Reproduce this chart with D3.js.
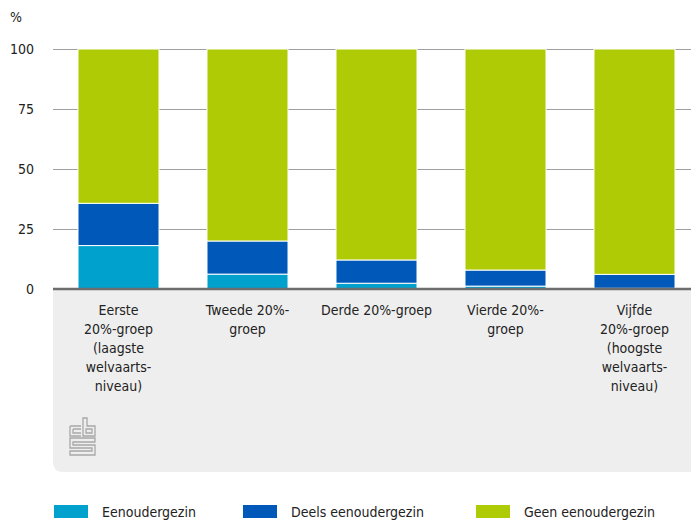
<!DOCTYPE html>
<html>
<head>
<meta charset="utf-8">
<script src="https://cdn.jsdelivr.net/npm/d3@7"></script>
<style>
  body { margin: 0; background: #fff; }
  svg { display: block; font-family: "Liberation Sans Narrow", "DejaVu Sans Condensed", "Roboto", sans-serif; }
</style>
</head>
<body>
<div id="drawArea"></div>
<script>
// categories (x labels, already split in lines)
var groups = ['g1', 'g2', 'g3', 'g4', 'g5'];
var groupLabels = [
    ['Eerste', '20%-groep', '(laagste', 'welvaarts-', 'niveau)'],
    ['Tweede 20%-', 'groep'],
    ['Derde 20%-groep'],
    ['Vierde 20%-', 'groep'],
    ['Vijfde', '20%-groep', '(hoogste', 'welvaarts-', 'niveau)']
];
// series values (%)
var eenouder = [18.1, 6.2, 2.4, 1.2, 0.3];
var deels = [17.6, 13.8, 9.7, 6.7, 5.8];
var geen = [64.3, 80.0, 87.9, 92.1, 93.9];
var seriesNames = ['Eenoudergezin', 'Deels eenoudergezin', 'Geen eenoudergezin'];
var seriesColors = ['#00a1cd', '#0058b8', '#afcb05'];
var yTicks = [0, 25, 50, 75, 100];

var width = 691, height = 522;
var plotLeft = 53, plotTop = 49, plotBottom = 289;

var svg = d3.select('#drawArea')
    .append('svg')
    .attr('width', width)
    .attr('height', height);

var x = d3.scaleBand()
    .domain(groups)
    .range([54, 699])
    .paddingInner(0.372)
    .paddingOuter(0.186);

var y = d3.scaleLinear()
    .domain([0, 100])
    .range([plotBottom, plotTop]);

// grey label panel with rounded bottom-left corner
var r = 10;
svg.append('path')
    .attr('d', 'M' + plotLeft + ',' + plotBottom + 'H' + width + 'V472H' + (plotLeft + r) +
        'Q' + plotLeft + ',472 ' + plotLeft + ',' + (472 - r) + 'Z')
    .attr('fill', '#eeeeee');

// grid lines
svg.selectAll('.grid')
    .data(yTicks.filter(function (d) { return d > 0; }))
    .enter()
    .append('line')
    .attr('x1', plotLeft)
    .attr('x2', width)
    .attr('y1', function (d) { return y(d) + 0.5; })
    .attr('y2', function (d) { return y(d) + 0.5; })
    .attr('stroke', '#a0a0a0')
    .attr('stroke-width', 1);

// y tick labels
svg.selectAll('.ytick')
    .data(yTicks)
    .enter()
    .append('text')
    .attr('x', 34)
    .attr('y', function (d) { return y(d) + 5; })
    .attr('text-anchor', 'end')
    .attr('font-size', 14)
    .attr('fill', '#222')
    .text(function (d) { return d; });

svg.append('text')
    .attr('x', 10)
    .attr('y', 22)
    .attr('font-size', 14)
    .attr('fill', '#222')
    .text('%');

// stacked bars
var table = groups.map(function (g, i) {
    return { g: g, s0: eenouder[i], s1: deels[i], s2: geen[i] };
});
var stacked = d3.stack().keys(['s0', 's1', 's2'])(table);

svg.selectAll('.serie')
    .data(stacked)
    .enter()
    .append('g')
    .attr('fill', function (d, i) { return seriesColors[i]; })
    .selectAll('rect')
    .data(function (d) { return d; })
    .enter()
    .append('rect')
    .attr('x', function (d) { return x(d.data.g); })
    .attr('width', x.bandwidth())
    .attr('y', function (d) { return y(d[1]); })
    .attr('height', function (d) { return Math.max(0, y(d[0]) - y(d[1])); })
    .attr('stroke', '#fff')
    .attr('stroke-width', 1);

// baseline
svg.append('line')
    .attr('x1', plotLeft)
    .attr('x2', width)
    .attr('y1', plotBottom)
    .attr('y2', plotBottom)
    .attr('stroke', '#6e6e6e')
    .attr('stroke-width', 2.5);

// x labels
groups.forEach(function (g, i) {
    var t = svg.append('text')
        .attr('text-anchor', 'middle')
        .attr('font-size', 14)
        .attr('fill', '#222');
    groupLabels[i].forEach(function (line, j) {
        t.append('tspan')
            .attr('x', x(g) + x.bandwidth() / 2)
            .attr('y', 315 + j * 19)
            .text(line);
    });
});

// cbs logo (rough)
var logo = svg.append('g')
    .attr('transform', 'translate(70,418)')
    .attr('fill', 'none')
    .attr('stroke', '#a8a8a8')
    .attr('stroke-width', 1.3);
logo.append('path').attr('d', 'M0,8H11M0,8V18H11M3,11H11M3,11V15H11');
logo.append('path').attr('d', 'M13,18V0H17V8H25V18Z M16,11V15H22V11Z');
logo.append('path').attr('d', 'M0,20H25V24H3V27H25V37H0V33H22V30H0Z');

// legend
var legend = svg.selectAll('.legend')
    .data(seriesNames)
    .enter()
    .append('g')
    .attr('transform', function (d, i) { return 'translate(' + [54, 243, 476][i] + ',505)'; });
legend.append('rect')
    .attr('width', 34)
    .attr('height', 13)
    .attr('fill', function (d, i) { return seriesColors[i]; });
legend.append('text')
    .attr('x', 48)
    .attr('y', 12)
    .attr('font-size', 14)
    .attr('fill', '#222')
    .text(function (d) { return d; });
</script>
</body>
</html>
